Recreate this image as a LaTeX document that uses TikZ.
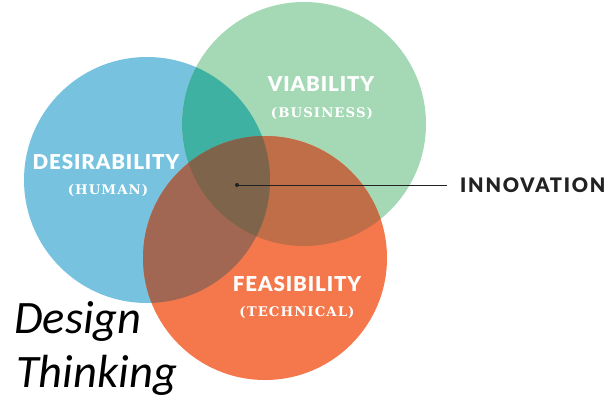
\documentclass[tikz,border=0pt]{standalone}
\usepackage{fontspec}
\newfontfamily\headfont{Lato}[LetterSpace=4.5,BoldFont={Lato Black}]
\newfontfamily\subfont{DejaVu Serif}[LetterSpace=8]
\newfontfamily\dtfont{Carlito}
\definecolor{cblue}{HTML}{77C3DF}
\definecolor{cgreen}{HTML}{A5D9B5}
\definecolor{corange}{HTML}{F4784B}
\definecolor{cbg}{HTML}{3FB1A3}
\definecolor{cbo}{HTML}{A26753}
\definecolor{cgo}{HTML}{BF6E48}
\definecolor{cbgo}{HTML}{7D644A}
\definecolor{cdark}{HTML}{222222}
\begin{document}
\begin{tikzpicture}[x=1pt,y=-1pt,
  head/.style={text=white,font=\headfont\bfseries\fontsize{20.5}{20}\selectfont,inner sep=0pt},
  sub/.style={text=white,font=\subfont\bfseries\fontsize{13.3}{14}\selectfont,inner sep=0pt},
  dt/.style={text=black,font=\dtfont\itshape\fontsize{46.5}{48}\selectfont,inner sep=0pt,anchor=base west}]
\useasboundingbox (0,0) rectangle (609,399);
\def\Bc{(147,180) circle[radius=123]}
\def\Gc{(304,124) circle[radius=122]}
\def\Oc{(265,258) circle[radius=122]}
\fill[cblue] \Bc;
\fill[cgreen] \Gc;
\fill[corange] \Oc;
\begin{scope}\clip \Bc; \fill[cbg] \Gc; \end{scope}
\begin{scope}\clip \Bc; \fill[cbo] \Oc; \end{scope}
\begin{scope}\clip \Gc; \fill[cgo] \Oc; \end{scope}
\begin{scope}\clip \Bc; \clip \Gc; \fill[cbgo] \Oc; \end{scope}
\node[head] (des) at (106,162.5) {DESIRABILITY};
\node[sub] (hum) at (108,190.5) {(HUMAN)};
\node[head] (via) at (321,84.5) {VIABILITY};
\node[sub] (bus) at (322,113) {(BUSINESS)};
\node[head] (fea) at (297,284.5) {FEASIBILITY};
\node[sub] (tec) at (297,312.5) {(TECHNICAL)};
\node[text=cdark,font=\headfont\bfseries\fontsize{20}{20}\addfontfeatures{LetterSpace=9}\selectfont,inner sep=0pt,anchor=west] (inn) at (460,185.5) {INNOVATION};
\coordinate (dot) at (237,185);
\coordinate (lend) at (447,185);
\fill[cdark] (dot) circle[radius=2];
\draw[cdark,line width=1pt] (dot) -- (lend);
\node[dt] (d1) at (14,333) {Design};
\node[dt] (d2) at (16,387) {Thinking};
\end{tikzpicture}
\end{document}
